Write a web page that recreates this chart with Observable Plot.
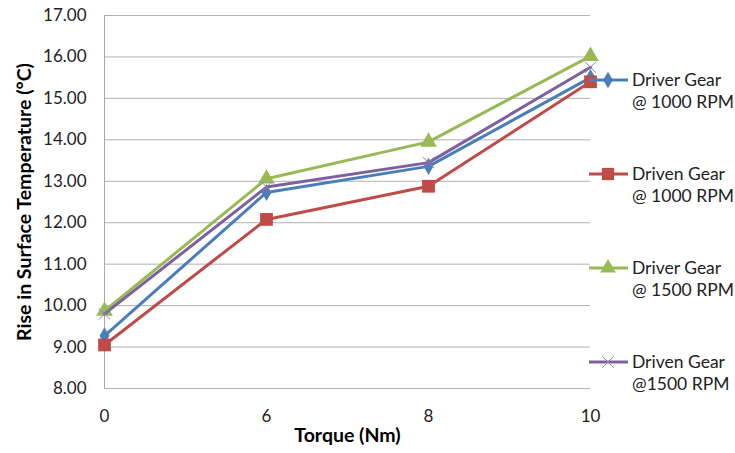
<!DOCTYPE html>
<html><head><meta charset="utf-8">
<script src="https://cdn.jsdelivr.net/npm/d3@7"></script>
<script src="https://cdn.jsdelivr.net/npm/@observablehq/plot@0.6"></script>
<style>
body{margin:0;background:#fff;}
#wrap{position:relative;width:735px;height:453px;font-family:Lato,"Open Sans",sans-serif;}
#legend{position:absolute;left:0;top:0;}
</style></head>
<body><div id="wrap"></div>
<script>
const torque = ["0","6","8","10"];
const seriesNames = ["Driver Gear @ 1000 RPM","Driven Gear @ 1000 RPM","Driver Gear @ 1500 RPM","Driven Gear @1500 RPM"];
const legendLine1 = ["Driver Gear","Driven Gear","Driver Gear","Driven Gear"];
const legendLine2 = ["@ 1000 RPM","@ 1000 RPM","@ 1500 RPM","@1500 RPM"];
const driver1000 = [9.27, 12.73, 13.36, 15.50];
const driven1000 = [9.05, 12.08, 12.88, 15.40];
const driver1500 = [9.87, 13.06, 13.95, 16.02];
const driven1500 = [9.80, 12.86, 13.45, 15.75];
const yTicks = [8,9,10,11,12,13,14,15,16,17];

const colors = ["#4A7EBB","#BE4B48","#98B954","#7D60A0"];
const symbols = ["diamond","square","triangle","times"];
const rs = [5.2, 7.2, 6.2, 5.2];
const allVals = [driver1000, driven1000, driver1500, driven1500];

const marks = [
  Plot.ruleY(yTicks, {stroke:"#b0b0b0", strokeWidth:1, strokeOpacity:1}),
  Plot.ruleX([torque[0]], {stroke:"#a8a8a8", strokeWidth:1}),
];
allVals.forEach((vals,i)=>{
  const data = torque.map((t,j)=>({t, v: vals[j], s: seriesNames[i]}));
  marks.push(Plot.line(data,{x:"t",y:"v",stroke:colors[i],strokeWidth:3}));
  if (symbols[i]==="times") {
    marks.push(Plot.dot(data,{x:"t",y:"v",symbol:"times",r:rs[i],stroke:"#9580B8",strokeWidth:1}));
  } else {
    marks.push(Plot.dot(data,{x:"t",y:"v",symbol:symbols[i],r:rs[i],fill:colors[i],stroke:"none"}));
  }
});
marks.push(Plot.axisY(yTicks,{tickSize:0,tickPadding:18,tickFormat:d=>d.toFixed(2),fontSize:17,fill:"#222",
  label:"Rise in Surface Temperature (°C)",labelAnchor:"center",labelArrow:"none",labelOffset:87}));
marks.push(Plot.axisX({tickSize:0,tickPadding:21,fontSize:17,fill:"#222",label:"Torque (Nm)",labelAnchor:"center",labelArrow:"none",labelOffset:53}));

const chart = Plot.plot({
  width:735, height:453,
  marginLeft:104, marginRight:145, marginTop:15, marginBottom:65,
  style:{fontFamily:"Lato, 'Open Sans', sans-serif", background:"#fff"},
  x:{type:"point", domain:torque, padding:0},
  y:{domain:[8,17]},
  marks
});
document.getElementById("wrap").appendChild(chart);
chart.querySelectorAll("g[aria-label='y-axis label'] text, g[aria-label='x-axis label'] text").forEach(t=>{
  t.setAttribute("font-weight","bold"); t.setAttribute("font-size","19.5"); t.setAttribute("fill","#000");
});

const ns="http://www.w3.org/2000/svg";
const lg=document.createElementNS(ns,"svg");
lg.setAttribute("id","legend");lg.setAttribute("width",735);lg.setAttribute("height",453);
const ys=[80,174,268,362];
ys.forEach((y,i)=>{
  const ln=document.createElementNS(ns,"line");
  ln.setAttribute("x1",589);ln.setAttribute("x2",628);ln.setAttribute("y1",y);ln.setAttribute("y2",y);
  ln.setAttribute("stroke",colors[i]);ln.setAttribute("stroke-width",3);lg.appendChild(ln);
  const p=document.createElementNS(ns,"path");
  const sz=[100,150,120,90][i];
  p.setAttribute("d", [d3.symbol(d3.symbolDiamond,sz*0.8)(),d3.symbol(d3.symbolSquare,sz)(),d3.symbol(d3.symbolTriangle,sz*0.9)(),d3.symbol(d3.symbolTimes,sz)()][i]);
  p.setAttribute("transform",`translate(608,${y})`);
  if(i===3){p.setAttribute("fill","none");p.setAttribute("stroke","#9580B8");p.setAttribute("stroke-width",1);}
  else p.setAttribute("fill",colors[i]);
  lg.appendChild(p);
  [legendLine1[i],legendLine2[i]].forEach((s,k)=>{
    const t=document.createElementNS(ns,"text");
    t.setAttribute("x",632);t.setAttribute("y",y+k*22);t.setAttribute("dy","0.35em");
    t.setAttribute("font-size",17.5);t.setAttribute("fill","#222");
    t.setAttribute("font-family","Lato, 'Open Sans', sans-serif");
    t.textContent=s;lg.appendChild(t);
  });
});
document.getElementById("wrap").appendChild(lg);
</script></body></html>
